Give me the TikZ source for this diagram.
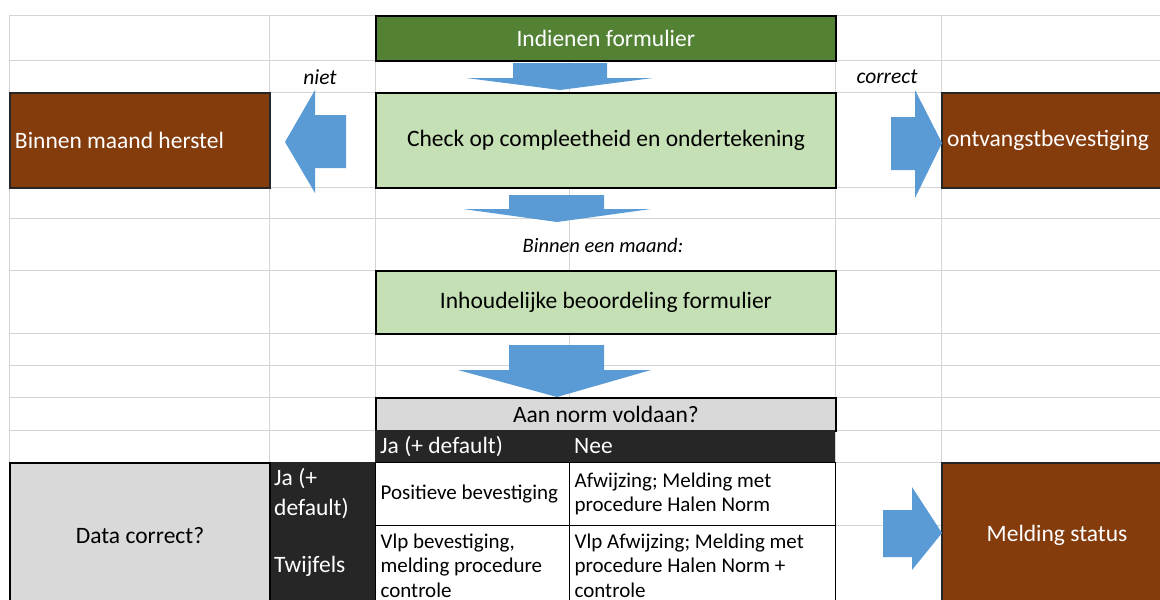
\documentclass[tikz,border=0pt]{standalone}
\usepackage{fontspec}
\setmainfont{Carlito}

\definecolor{pijlblauw}{HTML}{5B9BD5}
\definecolor{donkergroen}{HTML}{548235}
\definecolor{lichtgroen}{HTML}{C5E0B4}
\definecolor{bruin}{HTML}{843C0C}
\definecolor{lichtgrijs}{HTML}{D9D9D9}
\definecolor{bijnazwart}{HTML}{262626}
\definecolor{rasterlijn}{HTML}{D4D4D4}

\begin{document}
\begin{tikzpicture}[x=1pt, y=-1pt,
    box/.style={draw=black, line width=2pt, inner sep=0pt, anchor=north west,
        font=\fontsize{23.5}{28}\selectfont},
    leftbox/.style={box, inner xsep=5pt, align=flush left},
    cel/.style={draw=black, line width=1.2pt, fill=white, inner xsep=5pt, inner ysep=0pt,
        anchor=north west, align=flush left, font=\fontsize{21}{24.5}\selectfont},
    kop/.style={fill=bijnazwart, text=white, inner xsep=5pt, inner ysep=0pt,
        anchor=north west, align=flush left, font=\fontsize{23.5}{30}\selectfont},
    blokpijl/.style={fill=pijlblauw},
    notitie/.style={font=\fontsize{21.5}{25}\selectfont\itshape}]

\useasboundingbox (0,0) rectangle (1160,600);
\clip (0,0) rectangle (1160,600);

\foreach \y in {15,60,92,187,218,270,333,365,397,430,462,525}
    \draw[rasterlijn, line width=1pt] (9,\y) -- (1160,\y);
\foreach \x in {9,269,375,569,835,941}
    \draw[rasterlijn, line width=1pt] (\x,15) -- (\x,600);

\node[box, fill=donkergroen, text=white, line width=1.5pt, minimum width=460pt, minimum height=45pt]
    (indienen) at (375,15) {Indienen formulier};
\node[box, fill=lichtgroen, minimum width=460pt, minimum height=95pt]
    (check) at (375,92) {Check op compleetheid en ondertekening};
\node[leftbox, fill=bruin, text=white, draw=bijnazwart, text width=250pt, minimum height=95pt]
    (herstel) at (9,92) {Binnen maand herstel};
\node[leftbox, fill=bruin, text=white, draw=bijnazwart, text width=230pt, minimum height=95pt]
    (ontvangst) at (941,92) {ontvangstbevestiging};

\node[notitie] (niet) at (320,77) {niet};
\node[notitie] (correct) at (887,77) {correct};
\node[font=\fontsize{20.5}{24}\selectfont\itshape] (maand) at (603,245) {Binnen een maand:};

\node[box, fill=lichtgroen, minimum width=460pt, minimum height=63pt]
    (inhoud) at (375,270) {Inhoudelijke beoordeling formulier};
\node[box, fill=lichtgrijs, minimum width=460pt, minimum height=33pt]
    (norm) at (375,397) {Aan norm voldaan?};

\node[kop, text width=184pt, minimum height=32pt] (kopja) at (375,430) {Ja (+ default)};
\node[kop, text width=256pt, minimum height=32pt] (kopnee) at (569,430) {Nee};
\node[kop, text width=96pt, minimum height=63pt] (rijja) at (269,462) {Ja (+\\default)};
\node[kop, text width=96pt, minimum height=82pt] (rijtwijfel) at (269,525) {Twijfels};

\node[box, fill=lichtgrijs, minimum width=260pt, minimum height=145pt]
    (data) at (9,462) {Data correct?};

\node[cel, text width=184pt, minimum height=63pt] (jaja) at (375,462) {Positieve bevestiging};
\node[cel, text width=256pt, minimum height=63pt] (janee) at (569,462)
    {Afwijzing; Melding met\\procedure Halen Norm};
\node[cel, text width=184pt, minimum height=80pt] (twijfelja) at (375,525)
    {Vlp bevestiging,\\melding procedure\\controle};
\node[cel, text width=256pt, minimum height=80pt] (twijfelnee) at (569,525)
    {Vlp Afwijzing; Melding met\\procedure Halen Norm +\\controle};

\node[box, fill=bruin, text=white, draw=bijnazwart, minimum width=230pt, minimum height=145pt]
    (status) at (941,462) {Melding status};

\fill[blokpijl] (513,63) -- (607,63) -- (607,78) -- (653,78) -- (560,90) -- (466,78) -- (513,78) -- cycle;
\fill[blokpijl] (509,195) -- (604,195) -- (604,209) -- (651,209) -- (557,222) -- (463,209) -- (509,209) -- cycle;
\fill[blokpijl] (509,345) -- (604,345) -- (604,370) -- (651,370) -- (557,397) -- (458,370) -- (509,370) -- cycle;

\fill[blokpijl] (346,115) -- (315,115) -- (315,90) -- (285,142) -- (315,193) -- (315,168) -- (346,168) -- cycle;
\fill[blokpijl] (891,117) -- (915,117) -- (915,90) -- (942,143) -- (915,198) -- (915,170) -- (891,170) -- cycle;
\fill[blokpijl] (883,510) -- (912,510) -- (912,487) -- (942,533) -- (912,570) -- (912,557) -- (883,557) -- cycle;

\end{tikzpicture}
\end{document}
